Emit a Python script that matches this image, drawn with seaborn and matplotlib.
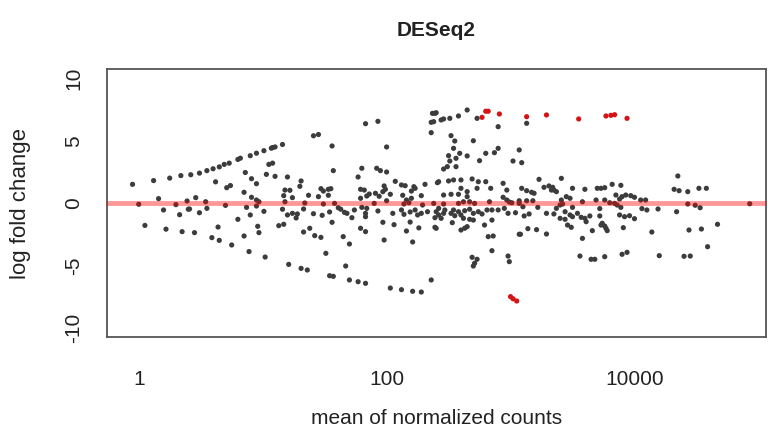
import numpy as np
import pandas as pd
import matplotlib
matplotlib.use("Agg")
import matplotlib.pyplot as plt
import seaborn as sns

# log10 of the mean of normalized counts, and log2 fold change (grey = not significant)
grey_log10_mean = [
    -0.05, 0.12, 0.25, 0.34, 0.00, 0.16, 0.20, 0.30, 0.39, 0.33, 0.05, 0.22, 0.35, 0.40,
    0.42, 0.49, 0.55, 0.60, 0.65, 0.69, 0.73, 0.80, 0.82, 0.90, 0.95, 1.01, 1.07,
    0.86, 1.05, 1.03, 0.91, 0.95, 0.62, 0.71, 0.74, 0.85, 0.91, 0.95, 0.97, 0.46, 0.54,
    0.70, 0.87, 0.95, 0.41, 0.49, 0.55, 0.90, 1.01, 0.80, 0.64, 0.96, 0.97, 0.45, 0.59,
    0.65, 0.75, 0.85, 0.89, 1.02,
    1.41, 1.45, 1.56, 1.08, 1.10, 1.16, 1.08, 1.10, 1.20, 1.57, 1.31, 1.30, 1.18, 1.22,
    1.17, 1.24, 1.37, 1.47, 1.49, 1.53, 1.55, 1.45, 1.53, 1.18, 1.34, 1.49, 1.58, 1.16,
    1.33, 1.61, 1.63, 1.66, 1.68, 1.72, 1.74, 1.20, 1.24, 1.28, 1.27, 1.41, 1.48, 1.54,
    1.56, 1.13, 1.17, 1.33, 1.38, 1.42, 1.47, 1.65, 1.70, 1.51, 1.21, 1.31, 1.36, 1.54,
    1.57, 1.67, 1.70,
    1.83, 1.93, 2.00, 2.37, 2.39, 2.36, 2.38, 2.36, 1.80, 1.77, 1.92, 1.95, 2.00, 2.07,
    2.12, 2.15, 2.22, 2.31, 2.41, 1.79, 1.82, 1.98, 1.99, 1.97, 1.91, 1.86, 1.94, 1.79,
    1.84, 2.03, 2.13, 2.20, 2.23, 2.28, 2.20, 2.16, 1.90, 2.00, 2.14, 2.18, 2.29, 2.38,
    1.80, 1.84, 1.83, 1.83, 1.93, 2.05, 2.12, 2.14, 2.19, 2.23, 2.25, 2.28, 2.33, 2.39,
    1.79, 1.83, 1.97, 2.06, 2.16, 2.19, 2.26, 2.39, 1.98, 2.21, 1.77, 1.83, 2.03, 2.12,
    2.21, 2.28, 2.36,
    2.40, 2.44, 2.46, 2.51, 2.58, 2.65, 2.73, 2.90, 2.52, 2.55, 2.70, 2.54, 2.59, 2.50,
    2.51, 2.56, 2.65, 2.75, 2.80, 2.87, 2.90, 2.46, 2.49, 2.56, 3.02, 3.07, 2.42, 2.50,
    2.54, 2.60, 2.69, 2.74, 2.80, 2.73, 2.84, 2.94, 2.97, 2.60, 2.52, 2.58, 2.65, 2.65,
    2.46, 2.94, 2.97, 2.58, 2.62, 2.67, 2.71, 2.46, 2.83, 2.99, 3.01, 3.07,
    2.40, 2.42, 2.44, 2.42, 2.46, 2.47, 2.52, 2.54, 2.55, 2.53, 2.58, 2.60, 2.62, 2.63,
    2.67, 2.70, 2.74, 2.77, 2.81, 2.85, 2.90, 2.95, 2.98, 3.04, 2.67, 2.70, 2.85, 2.79,
    2.60, 2.63, 2.65, 2.40, 2.82, 2.86, 3.07, 2.85, 2.69, 2.73, 2.71, 2.70, 2.98, 2.99,
    3.13, 3.09, 3.23, 3.41, 3.09, 3.13, 3.17, 3.19, 3.27, 3.31, 3.34, 3.35, 3.37, 3.33,
    3.50, 3.60, 3.70, 3.73, 3.45, 3.48, 3.41, 3.13, 3.07, 3.18, 3.40, 3.42, 3.58, 3.69,
    3.10, 3.22, 3.37, 3.50, 3.72, 3.11, 3.15, 3.29, 3.35, 3.44, 3.48, 3.50, 3.54, 3.57,
    3.60, 3.64, 3.72, 3.40, 3.44, 3.61, 3.73, 3.46, 3.49, 3.08, 3.14, 3.21, 3.29, 3.66,
    3.58, 3.56, 3.65, 3.68,
    4.35, 3.82, 3.89, 3.76, 3.85, 3.88, 3.90, 3.93, 3.97, 4.00, 4.32, 4.36, 3.76, 3.80,
    3.84, 3.86, 3.89, 4.05, 4.09, 4.06, 4.10, 4.19, 4.34, 3.88, 3.92, 3.96, 4.00, 3.74,
    3.76, 3.77, 3.78, 3.91, 4.14, 3.76, 3.90, 3.94, 4.20, 4.40,
    4.43, 4.52, 4.58, 4.43, 4.49, 4.53, 4.93, 4.44, 4.54, 4.67, 4.59, 4.45,
]
grey_lfc = [
    1.50, 1.80, 2.00, 2.20, -0.10, 0.35, -0.56, -0.13, 0.16, -0.94, -1.80, -2.10, -2.30, -0.50,
    2.27, 2.40, 2.60, 2.75, 2.90, 3.10, 3.20, 3.50, 3.60, 3.80, 4.00, 4.20, 4.40,
    2.45, 3.10, 2.30, 1.95, 1.55, 1.70, 1.23, 1.40, 0.86, 0.46, 0.24, 0.10, 0.43, 0.10,
    -0.19, -0.35, -0.24, -0.48, -0.78, -0.43, -0.96, -0.67, -1.31, -1.93, -1.87, -2.38, -2.38, -2.78,
    -3.00, -3.37, -2.65, -3.90, -4.34,
    5.40, 5.50, 4.58, 4.45, 4.50, 4.70, 3.20, 2.14, 2.09, 2.60, 1.77, 1.34, 1.04, 1.02,
    0.59, 0.43, 0.62, 1.15, 0.96, 1.10, 1.15, 0.51, 0.62, 0.10, 0.00, -0.08, -0.03, -0.50,
    -0.48, -0.38, -0.50, -0.75, -0.83, -1.18, -0.56, -0.96, -0.83, -0.88, -1.20, -0.86, -0.99, -0.72,
    -1.55, -1.82, -1.71, -2.33, -2.03, -2.62, -2.76, -2.70, -3.29, -4.04, -4.93, -5.25, -5.38, -5.84,
    -5.89, -5.06, -6.18,
    6.37, 6.56, 4.50, 7.20, 7.20, 6.48, 6.53, 5.65, 2.79, 2.09, 2.79, 2.60, 2.49, 1.74,
    1.45, 1.39, 1.31, 1.50, 1.63, 1.10, 1.04, 1.37, 1.10, 0.91, 0.78, 0.72, 0.54, 0.38,
    0.56, 0.70, 0.62, 0.96, 1.18, 0.59, 0.38, 0.24, -0.03, 0.18, -0.08, 0.02, -0.16, -0.03,
    -0.35, -0.43, -0.83, -1.10, -0.64, -0.83, -0.56, -0.91, -0.72, -0.56, -0.96, -0.83, -0.70, -1.18,
    -2.03, -2.30, -1.55, -1.74, -2.25, -1.53, -2.00, -1.95, -2.97, -3.13, -6.32, -6.45, -6.83, -6.96,
    -7.09, -7.15, -6.18,
    7.25, 6.67, 6.75, 6.80, 6.99, 7.47, 6.80, 6.13, 5.41, 4.98, 5.00, 4.39, 3.99, 3.80,
    3.37, 3.59, 3.78, 3.40, 3.99, 4.04, 4.39, 2.73, 2.92, 2.92, 3.37, 4.26, 1.71, 1.77,
    1.85, 1.85, 1.93, 1.71, 1.71, 1.18, 1.18, 1.58, 1.04, 1.18, 0.70, 0.70, 0.91, 0.51,
    0.64, 0.46, 0.24, -0.03, 0.10, 0.10, -0.03, -0.08, 0.10, 0.08, 0.02, -0.03,
    -0.70, -0.96, -1.23, -0.43, -0.83, -0.56, -0.83, -0.56, -1.02, -1.58, -0.70, -0.96, -1.23, -0.62,
    -0.50, -0.83, -0.70, -0.88, -0.56, -0.56, -0.56, -0.43, -0.83, -0.78, -1.31, -1.37, -1.37, -1.77,
    -2.17, -2.03, -1.90, -2.03, -2.70, -2.65, -2.51, -3.83, -4.36, -4.52, -4.84, -5.06, -4.26, -4.71,
    6.40, 3.24, 1.90, 1.98, 1.18, 0.99, 0.86, 0.78, 1.26, 1.37, 1.26, 1.04, 0.91, 1.04,
    1.18, 1.10, 1.18, 1.18, 0.51, 0.38, 0.24, 0.18, 0.18, 0.18, -0.16, -0.08, 0.10, 0.24,
    -0.30, -0.35, -0.43, -0.35, -0.45, -1.04, -0.88, -0.83, -0.88, -0.70, -0.96, -1.10, -0.83, -1.15,
    -1.23, -1.04, -1.04, -1.23, -1.31, -1.50, -1.77, -1.77, -1.95, -2.51, -2.06, -2.14, -2.49, -2.22,
    -2.84, -4.26, -4.52, -4.52,
    2.17, 1.50, 1.42, 1.23, 0.64, 0.32, 0.51, 0.64, 0.59, 0.46, 1.10, 0.99, 0.24, 0.02,
    -0.03, -0.16, -0.35, 0.24, 0.24, -0.45, -0.56, -0.48, -0.70, -0.96, -1.10, -1.02, -1.26, -1.63,
    -1.85, -2.03, -2.22, -1.98, -2.33, -4.31, -4.12, -3.96, -4.23, -4.28,
    0.91, 1.18, 1.18, -0.08, -0.18, -0.38, -0.06, -2.17, -2.09, -1.71, -3.51, -4.26,
]

# significant genes (drawn in red)
red_log10_mean = [2.80, 2.82, 2.77, 2.91, 3.13, 3.29, 3.55, 3.77, 3.81, 3.84, 3.94,
                  3.00, 3.02, 3.05]
red_lfc = [7.37, 7.37, 6.88, 7.15, 6.93, 7.07, 6.75, 6.99, 7.04, 7.09, 6.80,
           -7.52, -7.69, -7.87]

df = pd.DataFrame({
    "baseMean": np.power(10.0, grey_log10_mean + red_log10_mean),
    "log2FoldChange": grey_lfc + red_lfc,
    "sig": ["no"] * len(grey_lfc) + ["yes"] * len(red_lfc),
})

sns.set_style("white")
plt.rcParams["font.family"] = ["Liberation Sans", "DejaVu Sans"]

fig = plt.figure(figsize=(7.68, 4.43), dpi=100)
ax = fig.add_axes([0.139, 0.2393, 0.859, 0.6049])

sns.scatterplot(data=df, x="baseMean", y="log2FoldChange", hue="sig",
                palette={"no": "#3c3c3c", "yes": "#d41414"},
                s=14, linewidth=0, legend=False, ax=ax)
ax.axhline(0, color="red", alpha=0.4, lw=3.5, zorder=3)

ax.set_xscale("log")
ax.set_xlim(10 ** -0.258, 10 ** 5.065)
ax.set_ylim(-10.76, 10.76)
ax.set_xticks([1, 100, 10000])
ax.set_xticklabels(["1", "100", "10000"])
ax.xaxis.set_minor_locator(matplotlib.ticker.NullLocator())
ax.set_yticks([-10, -5, 0, 5, 10])
ax.set_yticklabels(["-10", "-5", "0", "5", "10"], rotation=90, va="center")

for sp in ax.spines.values():
    sp.set_color("#555555")
    sp.set_linewidth(1.3)
ax.tick_params(axis="both", direction="out", length=7, width=1.2,
               color="#555555", labelsize=15, labelcolor="#222222")
ax.tick_params(axis="x", pad=17)
ax.tick_params(axis="y", pad=10)

ax.set_xlabel("mean of normalized counts", fontsize=15, color="#222222", labelpad=14)
ax.set_ylabel("log fold change", fontsize=16, color="#222222", labelpad=24)
ax.set_title("DESeq2", fontsize=15, fontweight="bold", color="#222222", pad=24)

fig.savefig("out.png", dpi=100)
